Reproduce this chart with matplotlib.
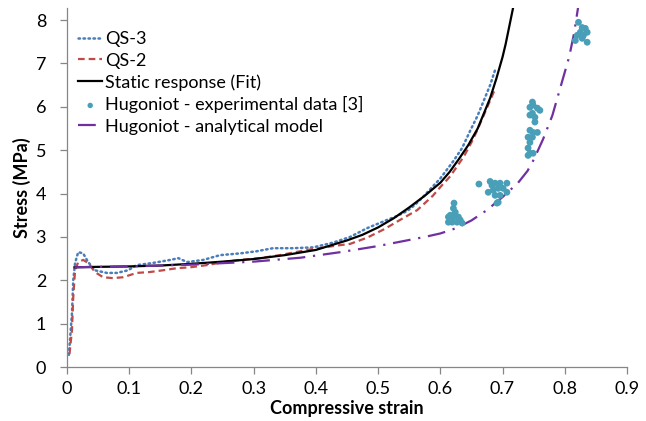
import matplotlib
matplotlib.use("Agg")
import matplotlib.pyplot as plt

plt.rcParams['font.family'] = ['Lato', 'DejaVu Sans']

# QS-3 (blue dotted)
qs3_x = [0.003, 0.008, 0.010, 0.013, 0.018, 0.026, 0.034, 0.045, 0.064, 0.080, 0.098, 0.112,
         0.138, 0.166, 0.179, 0.193, 0.219, 0.246, 0.278, 0.305, 0.331, 0.363, 0.396, 0.428,
         0.455, 0.482, 0.514, 0.530, 0.547, 0.560, 0.572, 0.585, 0.600, 0.621, 0.635, 0.648,
         0.660, 0.670, 0.680, 0.688]
qs3_y = [0.28, 1.24, 2.00, 2.40, 2.65, 2.62, 2.42, 2.23, 2.17, 2.17, 2.23, 2.35,
         2.40, 2.47, 2.51, 2.42, 2.47, 2.58, 2.62, 2.67, 2.74, 2.74, 2.76, 2.87,
         3.00, 3.20, 3.39, 3.48, 3.60, 3.75, 3.92, 4.12, 4.35, 4.75, 5.05, 5.45,
         5.80, 6.15, 6.50, 6.85]

# QS-2 (red dashed)
qs2_x = [0.004, 0.008, 0.010, 0.013, 0.018, 0.026, 0.034, 0.045, 0.058, 0.074, 0.090, 0.112,
         0.133, 0.154, 0.177, 0.198, 0.225, 0.251, 0.278, 0.310, 0.342, 0.386, 0.428, 0.455,
         0.482, 0.510, 0.535, 0.563, 0.588, 0.600, 0.616, 0.638, 0.650, 0.659, 0.675, 0.687]
qs2_y = [0.30, 0.85, 1.60, 2.23, 2.42, 2.47, 2.40, 2.19, 2.07, 2.05, 2.07, 2.17,
         2.19, 2.23, 2.28, 2.30, 2.35, 2.42, 2.47, 2.51, 2.58, 2.70, 2.79, 2.84,
         2.98, 3.18, 3.39, 3.62, 3.95, 4.15, 4.40, 4.86, 5.18, 5.45, 5.98, 6.38]

# Static response (Fit)
fit_x = [0.012, 0.05, 0.10, 0.15, 0.20, 0.25, 0.30, 0.35, 0.40, 0.45, 0.475, 0.50,
         0.525, 0.55, 0.575, 0.60, 0.615, 0.63, 0.645, 0.66, 0.67, 0.68, 0.69, 0.70,
         0.705, 0.71, 0.715, 0.72]
fit_y = [2.30, 2.31, 2.32, 2.34, 2.38, 2.43, 2.49, 2.58, 2.70, 2.92, 3.05, 3.22,
         3.43, 3.68, 3.95, 4.25, 4.50, 4.80, 5.12, 5.50, 5.85, 6.20, 6.65, 7.15,
         7.45, 7.80, 8.15, 8.50]

# Hugoniot - experimental data
hug_x = [0.622, 0.621, 0.624, 0.616, 0.613, 0.621, 0.629, 0.632, 0.635, 0.627, 0.619, 0.613,
         0.662, 0.680, 0.683, 0.688, 0.696, 0.707, 0.677, 0.685, 0.693, 0.701, 0.707, 0.688,
         0.696, 0.693, 0.691,
         0.748, 0.744, 0.749, 0.756, 0.760, 0.748, 0.744, 0.752, 0.752, 0.744, 0.749, 0.756,
         0.741, 0.748, 0.744, 0.741, 0.744, 0.741, 0.749,
         0.822, 0.828, 0.833, 0.836, 0.825, 0.820, 0.830, 0.817, 0.836, 0.828]
hug_y = [3.78, 3.66, 3.57, 3.50, 3.46, 3.46, 3.46, 3.39, 3.32, 3.34, 3.34, 3.34,
         4.22, 4.28, 4.19, 4.24, 4.24, 4.24, 4.03, 4.08, 4.12, 4.12, 4.03, 3.96,
         3.96, 3.80, 3.78,
         6.11, 5.99, 6.04, 5.97, 5.92, 5.85, 5.81, 5.76, 5.65, 5.46, 5.41, 5.41,
         5.30, 5.30, 5.18, 5.05, 4.93, 4.88, 4.93,
         7.95, 7.83, 7.81, 7.72, 7.72, 7.65, 7.65, 7.53, 7.49, 7.58]

# Hugoniot - analytical model
mod_x = [0.012, 0.10, 0.20, 0.30, 0.375, 0.44, 0.50, 0.55, 0.575, 0.60, 0.625, 0.65,
         0.675, 0.70, 0.725, 0.74, 0.75, 0.765, 0.78, 0.79, 0.80, 0.807, 0.815, 0.822]
mod_y = [2.30, 2.32, 2.36, 2.43, 2.52, 2.65, 2.79, 2.93, 3.00, 3.08, 3.20, 3.38,
         3.62, 3.92, 4.25, 4.52, 4.78, 5.25, 5.80, 6.30, 6.80, 7.15, 7.70, 8.35]

x_ticks = [0, 0.1, 0.2, 0.3, 0.4, 0.5, 0.6, 0.7, 0.8, 0.9]
x_tick_labels = ["0", "0.1", "0.2", "0.3", "0.4", "0.5", "0.6", "0.7", "0.8", "0.9"]
y_ticks = [0, 1, 2, 3, 4, 5, 6, 7, 8]

fig = plt.figure(figsize=(6.46, 4.21), dpi=100)
ax = fig.add_axes([67/646, 1 - 367/421, 560/646, 359/421])

ax.plot(qs3_x, qs3_y, color="#4A7EBB", lw=1.8, linestyle=(0, (0.6, 1.4)),
        dash_capstyle="round", label="QS-3")
ax.plot(qs2_x, qs2_y, color="#BE4B48", lw=1.6, linestyle=(0, (3, 1.8)),
        label="QS-2")
ax.plot(fit_x, fit_y, color="black", lw=1.6, label="Static response (Fit)")
ax.scatter(hug_x, hug_y, s=24, color="#4A9FB8", edgecolors="none", zorder=3,
           label="Hugoniot - experimental data [3]")
ax.plot(mod_x, mod_y, color="#7030A0", lw=1.6, linestyle=(0, (8, 3.5, 1, 3.5)),
        label="Hugoniot - analytical model")

ax.set_xlim(0, 0.9)
ax.set_ylim(0, 8.28)
ax.set_xticks(x_ticks)
ax.set_xticklabels(x_tick_labels)
ax.set_yticks(y_ticks)

for s in ["top", "right"]:
    ax.spines[s].set_visible(False)
for s in ["left", "bottom"]:
    ax.spines[s].set_color("#868686")
    ax.spines[s].set_linewidth(0.9)
ax.tick_params(axis="both", direction="out", length=5, width=0.9, color="#868686",
               labelsize=13, labelcolor="black")
ax.tick_params(axis="y", pad=10)
ax.tick_params(axis="x", pad=5)

ax.set_xlabel("Compressive strain", fontsize=13, fontweight="bold", labelpad=2)
ax.set_ylabel("Stress (MPa)", fontsize=13, fontweight="bold", labelpad=3)

leg = ax.legend(loc="upper left", bbox_to_anchor=(0.01, 0.95), frameon=False,
                fontsize=13, handlelength=1.35, handletextpad=0.15,
                labelspacing=0.3, borderaxespad=0.0, borderpad=0.3,
                markerscale=0.8)

fig.savefig("out.png", dpi=100)
